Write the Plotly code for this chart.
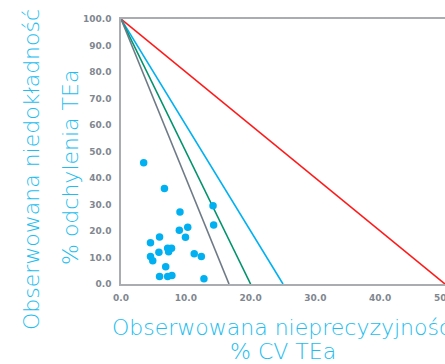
import plotly.graph_objects as go

# Decision lines: all start at (0, 100) and end at x-intercept on the x axis
line_intercepts = [50.0, 25.0, 20.0, 16.67]
line_colors = ["#ff1a1a", "#00b0f0", "#00936b", "#6e7b87"]

# Observed points: imprecision (% CV TEa) vs inaccuracy (% bias TEa)
cv_values = [3.5, 6.7, 9.1, 14.2, 14.3, 10.3, 9.0, 9.95, 5.95, 4.55, 7.2, 7.8,
             7.35, 5.85, 11.3, 12.4, 4.55, 4.9, 6.9, 5.95, 7.2, 7.85, 12.8]
bias_values = [45.8, 36.0, 27.2, 29.5, 22.3, 21.4, 20.3, 17.6, 17.7, 15.6, 13.5, 13.5,
               12.2, 12.0, 11.4, 10.4, 10.4, 8.8, 6.5, 2.8, 2.8, 3.2, 2.0]

x_ticks = [0, 10, 20, 30, 40, 50]
y_ticks = [0, 10, 20, 30, 40, 50, 60, 70, 80, 90, 100]

fig = go.Figure()
for xi, col in zip(line_intercepts, line_colors):
    fig.add_trace(go.Scatter(x=[0, xi], y=[100, 0], mode="lines",
                             line=dict(color=col, width=1.6),
                             hoverinfo="skip", showlegend=False, cliponaxis=False))

fig.add_trace(go.Scatter(x=cv_values, y=bias_values, mode="markers",
                         marker=dict(color="#00b0f0", size=7.5, line=dict(width=0)),
                         showlegend=False, cliponaxis=False))

title_font = dict(family="DejaVu Sans, Open Sans, sans-serif", size=22, color="#22bdf0", weight=200)
tick_font = dict(family="DejaVu Sans, sans-serif", size=9, color="#7f8790", weight="bold")

L, R, T, B = 121, 0, 19, 80
W, H = 445, 364
pw, ph = W - L - R, H - T - B

def px(x):
    return (x - L) / pw

def py(y):
    return (H - B - y) / ph

annotations = [
    dict(text="Obserwowana niedokładność", x=px(31), y=py(170), textangle=-90),
    dict(text="% odchylenia TEa", x=px(70), y=py(168), textangle=-90),
    dict(text="Obserwowana nieprecyzyjność", x=px(281), y=py(327)),
    dict(text="% CV TEa", x=px(283), y=py(351)),
]
for a in annotations:
    a.update(xref="paper", yref="paper", xanchor="center", yanchor="middle",
             showarrow=False, font=title_font)

fig.update_layout(
    width=W, height=H,
    margin=dict(l=L, r=R, t=T, b=B, pad=0, autoexpand=False),
    paper_bgcolor="white", plot_bgcolor="white",
    annotations=annotations,
    xaxis=dict(range=[0, 50], tickvals=x_ticks, tickformat=".1f",
               showgrid=False, zeroline=False, showline=True, linecolor="#a9adb2",
               linewidth=1.5, mirror=True, ticks="", tickfont=tick_font, ticklabelstandoff=4,
               ticklabeloverflow="allow", automargin=False),
    yaxis=dict(range=[0, 100], tickvals=y_ticks, tickformat=".1f",
               showgrid=False, zeroline=False, showline=True, linecolor="#a9adb2",
               linewidth=1.5, ticks="", tickfont=tick_font, ticklabelstandoff=6,
               automargin=False),
)

fig.write_html("out.html", config={"displayModeBar": False},
               post_script="document.body.style.margin='0px';document.body.style.overflow='hidden';")
